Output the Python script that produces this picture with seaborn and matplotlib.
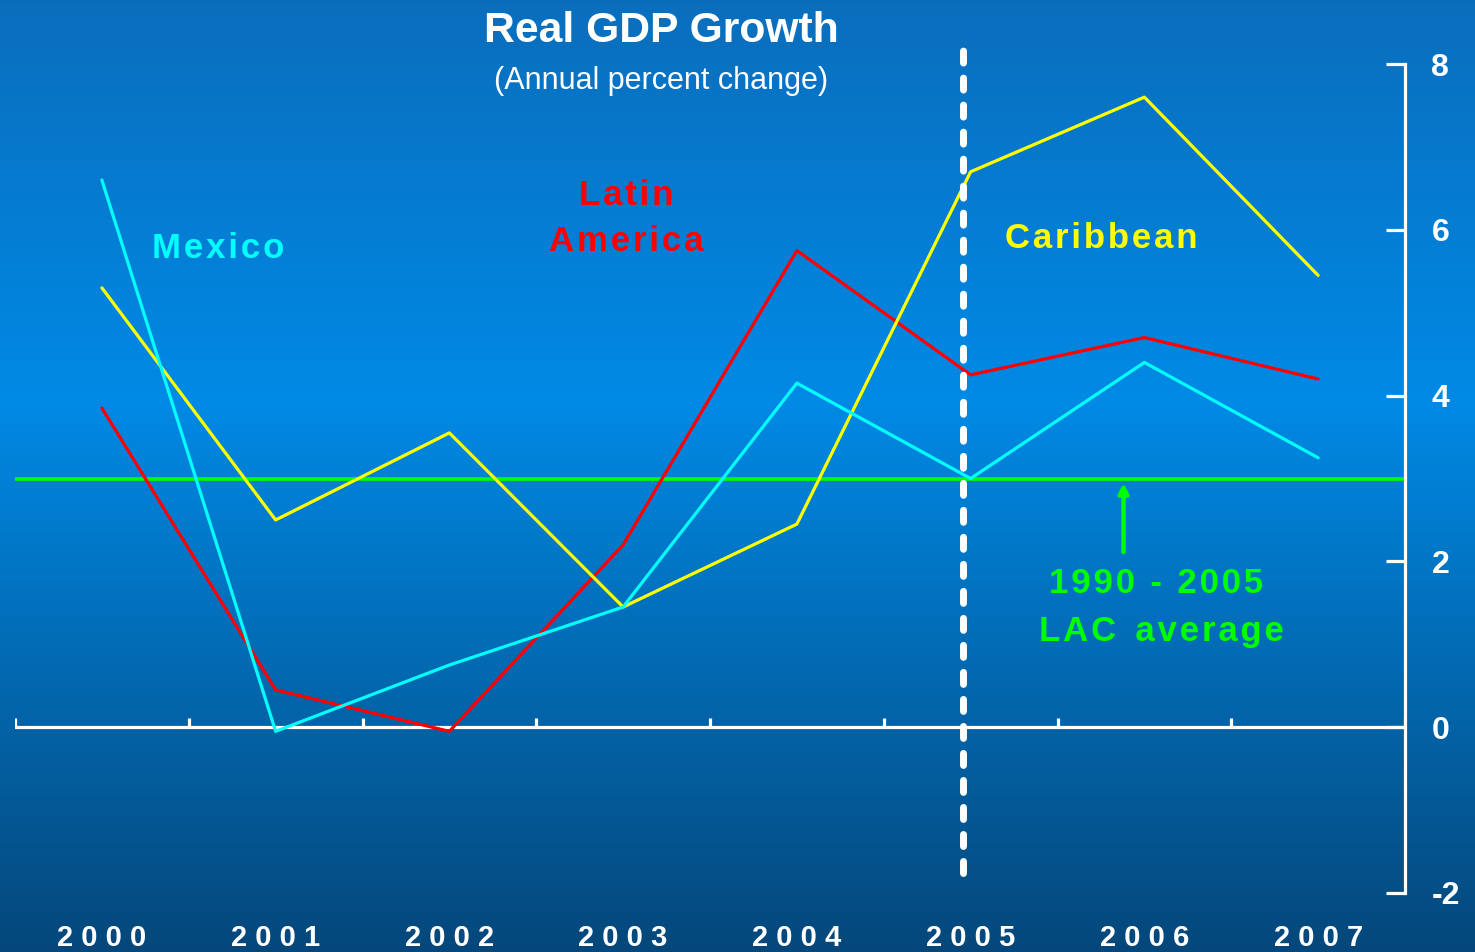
import numpy as np
import pandas as pd
import matplotlib
matplotlib.use("Agg")
import matplotlib.pyplot as plt
from matplotlib.colors import LinearSegmentedColormap
import seaborn as sns

sns.set_style("white")
plt.rcParams["font.family"] = ["Liberation Sans", "DejaVu Sans"]

years = ["2000", "2001", "2002", "2003", "2004", "2005", "2006", "2007"]
latin_america = [3.85, 0.45, -0.05, 2.2, 5.75, 4.25, 4.7, 4.2]
caribbean = [5.3, 2.5, 3.55, 1.45, 2.45, 6.7, 7.6, 5.45]
mexico = [6.6, -0.05, 0.75, 1.45, 4.15, 3.0, 4.4, 3.25]
lac_average = 3.0
y_ticks = [-2, 0, 2, 4, 6, 8]

series_colors = {"Latin America": "#ff0000", "Caribbean": "#ffff00", "Mexico": "#00ffff"}

df = pd.DataFrame({
    "pos": list(range(len(years))) * 3,
    "growth": latin_america + caribbean + mexico,
    "region": ["Latin America"] * 8 + ["Caribbean"] * 8 + ["Mexico"] * 8,
})

HAIR = "\u200a"


def spaced(s):
    """Open up the tracking of a label with hair spaces."""
    return HAIR.join(s)


fig = plt.figure(figsize=(14.75, 9.52), dpi=100)

# vertical blue gradient background
bg = fig.add_axes([0, 0, 1, 1], zorder=0)
bg_cmap = LinearSegmentedColormap.from_list(
    "bg", [(0.0, (0.04, 0.43, 0.74)), (0.42, (0.0, 0.54, 0.90)), (1.0, (0.02, 0.28, 0.48))]
)
bg.imshow(np.linspace(0, 1, 256).reshape(-1, 1), aspect="auto", cmap=bg_cmap,
          extent=[0, 1, 0, 1], origin="upper")
bg.set_axis_off()

ax = fig.add_axes([15 / 1475, 59 / 952, 1390 / 1475, 829 / 952], zorder=1)
ax.patch.set_alpha(0)

sns.lineplot(data=df, x="pos", y="growth", hue="region", palette=series_colors,
             hue_order=["Latin America", "Caribbean", "Mexico"],
             linewidth=2.3, legend=False, ax=ax, zorder=3)

ax.set_xlim(-0.5, len(years) - 0.5)
ax.set_ylim(-2, 8)

# horizontal axis drawn through zero with boundary ticks
ax.axhline(0, color="white", lw=2.3, zorder=2)
for b in np.arange(-0.5, len(years) - 0.4, 1.0):
    ax.plot([b, b], [0, 0.11], color="white", lw=2.3, solid_capstyle="butt", zorder=2)

# long-run average line and its annotation
ax.axhline(lac_average, color="#00ff00", lw=2.6, zorder=2.5)
ax.annotate("", xy=(5.88, lac_average - 0.02), xytext=(5.88, 2.08),
            arrowprops=dict(arrowstyle="-|>", color="#00ff00", lw=3.2, mutation_scale=14))
ax.text(6.07, 1.73, spaced("1990 - 2005"), color="#00ff00", fontsize=25,
        fontweight="bold", ha="center", va="center")
ax.text(6.1, 1.16, spaced("LAC") + "  " + spaced("average"), color="#00ff00", fontsize=25,
        fontweight="bold", ha="center", va="center")

# dashed separator at 2005
ax.plot([4.955, 4.955], [-1.76, 8.17], color="white", lw=5, ls=(0, (1.73, 2.16)),
        dash_capstyle="round", clip_on=False, zorder=4)

# series labels
ax.text(0.67, 5.77, spaced("Mexico"), color="#00ffff", fontsize=25,
        fontweight="bold", ha="center", va="center")
ax.text(3.015, 6.41, spaced("Latin"), color="#ff0000", fontsize=25,
        fontweight="bold", ha="center", va="center")
ax.text(3.015, 5.86, spaced("America"), color="#ff0000", fontsize=25,
        fontweight="bold", ha="center", va="center")
ax.text(5.75, 5.9, spaced("Caribbean"), color="#ffff00", fontsize=25,
        fontweight="bold", ha="center", va="center")

# right-hand value axis
for s in ["top", "left", "bottom"]:
    ax.spines[s].set_visible(False)
ax.spines["right"].set_color("white")
ax.spines["right"].set_linewidth(2.3)
ax.yaxis.tick_right()
ax.set_yticks(y_ticks)
ax.set_yticklabels([str(v) for v in y_ticks])
ax.tick_params(axis="y", direction="in", length=14, width=2.3, color="white",
               labelcolor="white", labelsize=23, pad=19)
for lbl in ax.get_yticklabels():
    lbl.set_fontweight("bold")

ax.set_xticks(range(len(years)))
ax.set_xticklabels([" ".join(y) for y in years])
ax.tick_params(axis="x", length=0, labelcolor="white", labelsize=21, pad=22)
for lbl in ax.get_xticklabels():
    lbl.set_fontweight("bold")
ax.set_xlabel("")
ax.set_ylabel("")

fig.text(661 / 1475, 1 - 31 / 952, "Real GDP Growth", color="white", fontsize=30.7,
         fontweight="bold", ha="center", va="center")
fig.text(661 / 1475, 1 - 81 / 952, "(Annual percent change)", color="white",
         fontsize=22, ha="center", va="center")

fig.savefig("out.png", dpi=100)
